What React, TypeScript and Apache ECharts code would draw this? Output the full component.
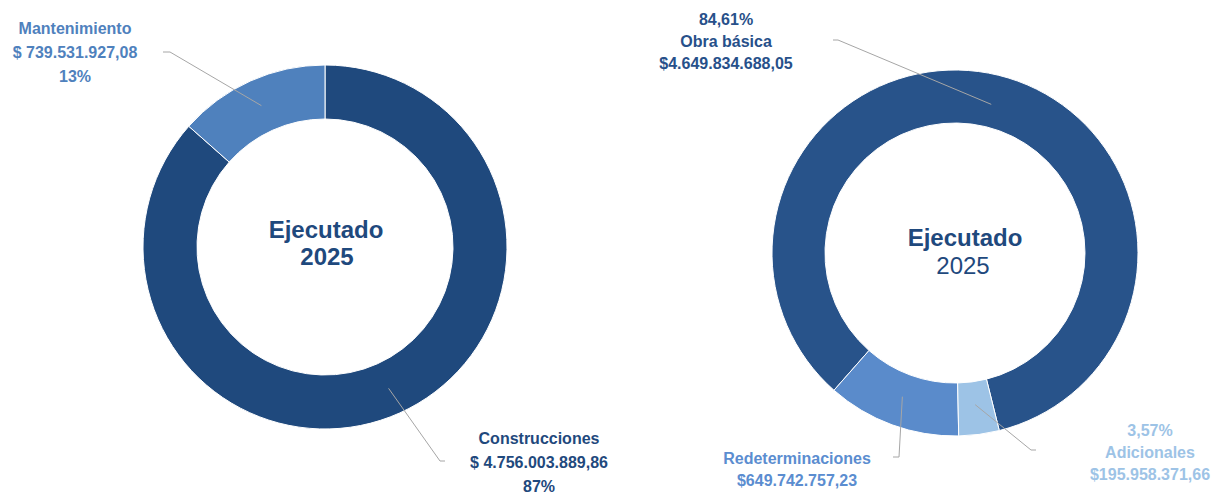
import React, { useEffect, useRef } from 'react';
import * as echarts from 'echarts';

const leftNames = ['Construcciones', 'Mantenimiento'];
const leftValues = [4756003889.86, 739531927.08];
const rightNames = ['Obra básica', 'Redeterminaciones', 'Adicionales'];
const rightValues = [4649834688.05, 649742757.23, 195958371.66];
const centerTitle = 'Ejecutado';
const centerYear = '2025';

const leftColors = ['#1f497d', '#4f81bd'];
const rightColors = ['#28538a', '#5a8bcb', '#9dc3e6'];
const leftLabelColors = ['#1f497d', '#4f81bd'];
const rightLabelColors = ['#27508a', '#5b8dd0', '#9dc3e6'];

const FONT = "'Liberation Sans', Arial, sans-serif";

function fmtMoney(v: number): string {
  const [i, d] = v.toFixed(2).split('.');
  return i.replace(/\B(?=(\d{3})+(?!\d))/g, '.') + ',' + d;
}

type Place = { x: number; y: number; elbow: number[]; end: number[] };

const leftGeo = { cx: 325, cy: 247, r0: 128, r1: 182, start: 90, clockwise: true, mid: 155 };
const rightGeo = { cx: 955, cy: 253, r0: 130, r1: 183, start: 284, clockwise: false, mid: 153 };

const leftPlace: Place[] = [
  { x: 539, y: 462, elbow: [440, 461], end: [445, 461] },
  { x: 75, y: 52, elbow: [170, 52], end: [163, 52] },
];
const rightPlace: Place[] = [
  { x: 726, y: 41, elbow: [838, 40], end: [833, 40] },
  { x: 797, y: 469, elbow: [899, 457], end: [893, 457] },
  { x: 1150, y: 452, elbow: [1031, 450], end: [1036, 450] },
];

function midAnchor(values: number[], idx: number, geo: any): number[] {
  const total = values.reduce((a, b) => a + b, 0);
  let cum = 0;
  for (let i = 0; i < idx; i++) cum += values[i];
  const frac = (cum + values[idx] / 2) / total;
  const dir = geo.clockwise ? -1 : 1;
  const ang = ((geo.start + dir * frac * 360) * Math.PI) / 180;
  return [geo.cx + geo.mid * Math.cos(ang), geo.cy - geo.mid * Math.sin(ang)];
}

export default function App() {
  const ref = useRef<HTMLDivElement>(null);
  useEffect(() => {
    if (!ref.current) return;
    const chart = echarts.init(ref.current, null, { renderer: 'svg' });

    const makeLayout = (values: number[], geo: any, place: Place[]) => (params: any) => {
      const p = place[params.dataIndex];
      const anchor = midAnchor(values, params.dataIndex, geo);
      return {
        x: p.x,
        y: p.y,
        align: 'center',
        verticalAlign: 'middle',
        labelLinePoints: [anchor, p.elbow, p.end],
      };
    };

    const ringSeries = (names: string[], values: number[], geo: any, colors: string[]) => ({
      type: 'pie',
      z: 2,
      silent: true,
      center: [geo.cx, geo.cy],
      radius: [geo.r0, geo.r1],
      startAngle: geo.start,
      clockwise: geo.clockwise,
      itemStyle: { borderColor: '#ffffff', borderWidth: 1 },
      label: { show: false },
      labelLine: { show: false },
      data: names.map((n, i) => ({ name: n, value: values[i], itemStyle: { color: colors[i] } })),
    });

    const labelSeries = (
      names: string[], values: number[], geo: any, labelColors: string[], place: Place[],
      lineHeight: number, formatter: (p: any) => string,
    ) => ({
      type: 'pie',
      z: 5,
      silent: true,
      center: [geo.cx, geo.cy],
      radius: [geo.r0, geo.r1],
      startAngle: geo.start,
      clockwise: geo.clockwise,
      avoidLabelOverlap: false,
      itemStyle: { color: 'rgba(0,0,0,0)', borderWidth: 0 },
      label: {
        show: true,
        position: 'outside',
        fontFamily: FONT,
        fontWeight: 'bold',
        fontSize: 16,
        lineHeight,
        formatter,
      },
      labelLine: { show: true, lineStyle: { color: '#a6a6a6', width: 1 } },
      labelLayout: makeLayout(values, geo, place),
      data: names.map((n, i) => ({
        name: n,
        value: values[i],
        label: { color: labelColors[i] },
      })),
    });

    const option: any = {
      animation: false,
      backgroundColor: '#ffffff',
      series: [
        ringSeries(leftNames, leftValues, leftGeo, leftColors),
        ringSeries(rightNames, rightValues, rightGeo, rightColors),
        labelSeries(leftNames, leftValues, leftGeo, leftLabelColors, leftPlace, 24,
          (p: any) => `${p.name}\n$ ${fmtMoney(p.value)}\n${Math.round(p.percent)}%`),
        labelSeries(rightNames, rightValues, rightGeo, rightLabelColors, rightPlace, 22,
          (p: any) => {
            const pct = p.percent.toFixed(2).replace('.', ',') + '%';
            const money = '$' + fmtMoney(p.value);
            if (p.dataIndex === 1) return `${p.name}\n${money}`;
            return `${pct}\n${p.name}\n${money}`;
          }),
      ],
      graphic: [
        {
          type: 'text', x: 326, y: 229,
          style: { text: centerTitle, font: `bold 24px ${FONT}`, fill: '#1f497d', textAlign: 'center', textVerticalAlign: 'middle' },
        },
        {
          type: 'text', x: 327, y: 256,
          style: { text: centerYear, font: `bold 24px ${FONT}`, fill: '#1f497d', textAlign: 'center', textVerticalAlign: 'middle' },
        },
        {
          type: 'text', x: 965, y: 237,
          style: { text: centerTitle, font: `bold 24px ${FONT}`, fill: '#1f497d', textAlign: 'center', textVerticalAlign: 'middle' },
        },
        {
          type: 'text', x: 963, y: 265,
          style: { text: centerYear, font: `24px ${FONT}`, fill: '#1f497d', textAlign: 'center', textVerticalAlign: 'middle' },
        },
      ],
    };
    chart.setOption(option);
    return () => chart.dispose();
  }, []);
  return (
    <div
      ref={ref}
      style={{ position: 'fixed', left: 0, top: 0, width: 1232, height: 494, background: '#fff' }}
    />
  );
}
